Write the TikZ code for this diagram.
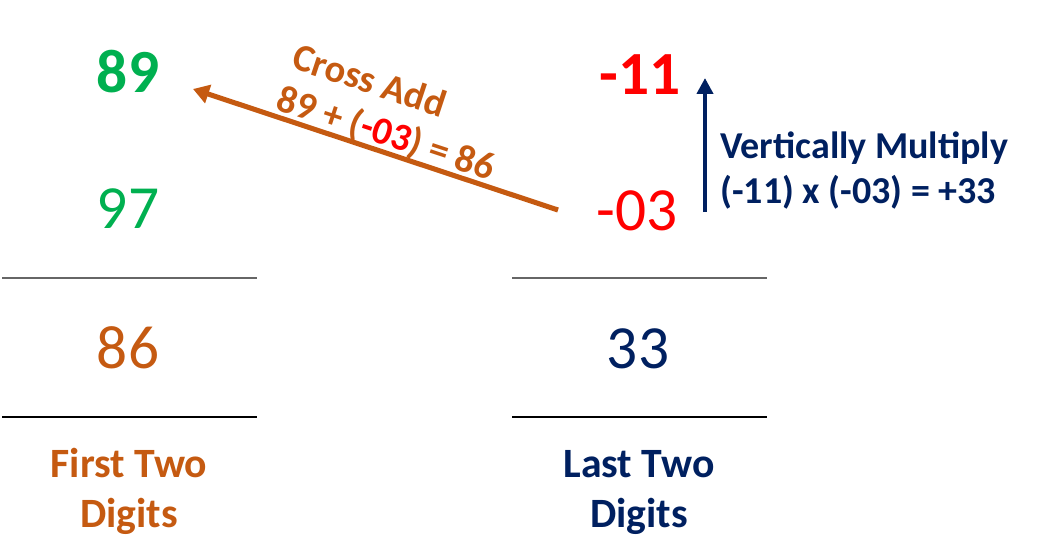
\documentclass[tikz,border=0pt]{standalone}
\usepackage{fontspec}
\setmainfont{Carlito}
\usetikzlibrary{arrows.meta}
\definecolor{corange}{HTML}{C55A11}
\definecolor{cgreen}{HTML}{00B050}
\definecolor{cred}{HTML}{FF0000}
\definecolor{cnavy}{HTML}{002060}
\tikzset{
  digit/.style={anchor=base,inner sep=0pt,font=\fontsize{46}{50}\selectfont},
  label/.style={anchor=base,inner sep=0pt,font=\fontsize{31.3}{36}\selectfont\bfseries},
  rule/.style={line width=1.3pt},
  slanted/.style={text=corange,font=\fontsize{29}{34}\selectfont\bfseries,rotate=-18.3,inner sep=0pt},
  vtext/.style={anchor=base west,inner sep=0pt,text=cnavy,font=\fontsize{28.5}{34}\selectfont\bfseries},
}
\begin{document}
\begin{tikzpicture}[x=0.75pt,y=-0.75pt]
\useasboundingbox (0,0) rectangle (1054,560);
% digits
\node[digit,text=cgreen,font=\fontsize{46}{50}\selectfont\bfseries] (a1) at (128,93) {89};
\node[digit,text=cgreen] (a2) at (128,228) {97};
\node[digit,text=corange] (a3) at (128,368) {86};
\node[digit,text=cred,font=\fontsize{46}{50}\selectfont\bfseries] (b1) at (640,95) {-11};
\node[digit,text=cred] (b2) at (637,230) {-03};
\node[digit,text=cnavy] (b3) at (638,368) {33};
% rules
\draw[rule,color=black!60] (2,278) coordinate (l1a) -- (257,278) coordinate (l1b);
\draw[rule,color=black] (2,417) coordinate (l2a) -- (257,417) coordinate (l2b);
\draw[rule,color=black!60] (512,278) coordinate (r1a) -- (767,278) coordinate (r1b);
\draw[rule,color=black] (512,417) coordinate (r2a) -- (767,417) coordinate (r2b);
% labels
\node[label,text=corange] (f1) at (129,477) {First Two};
\node[label,text=corange] (f2) at (129,527) {Digits};
\node[label,text=cnavy] (g1) at (639,477) {Last Two};
\node[label,text=cnavy] (g2) at (639,527) {Digits};
% cross add arrow
\coordinate (cs) at (558,210);
\coordinate (ce) at (193,89);
\draw[corange,line width=3.8pt,-{Triangle[length=12pt,width=14pt]}] (cs) -- (ce);
\node[slanted] (ct1) at (370,80) {Cross Add};
\node[slanted] (ct2) at (386,134) {89 + (\textcolor{cred}{-03}) = 86};
% vertical arrow
\coordinate (vs) at (705,212);
\coordinate (ve) at (705,78);
\draw[cnavy,line width=3pt,-{Triangle[length=12pt,width=12pt]}] (vs) -- (ve);
\node[vtext] (vt1) at (720,158) {Vertically Multiply};
\node[vtext] (vt2) at (720,203) {(-11) x (-03) = +33};
\end{tikzpicture}
\end{document}
